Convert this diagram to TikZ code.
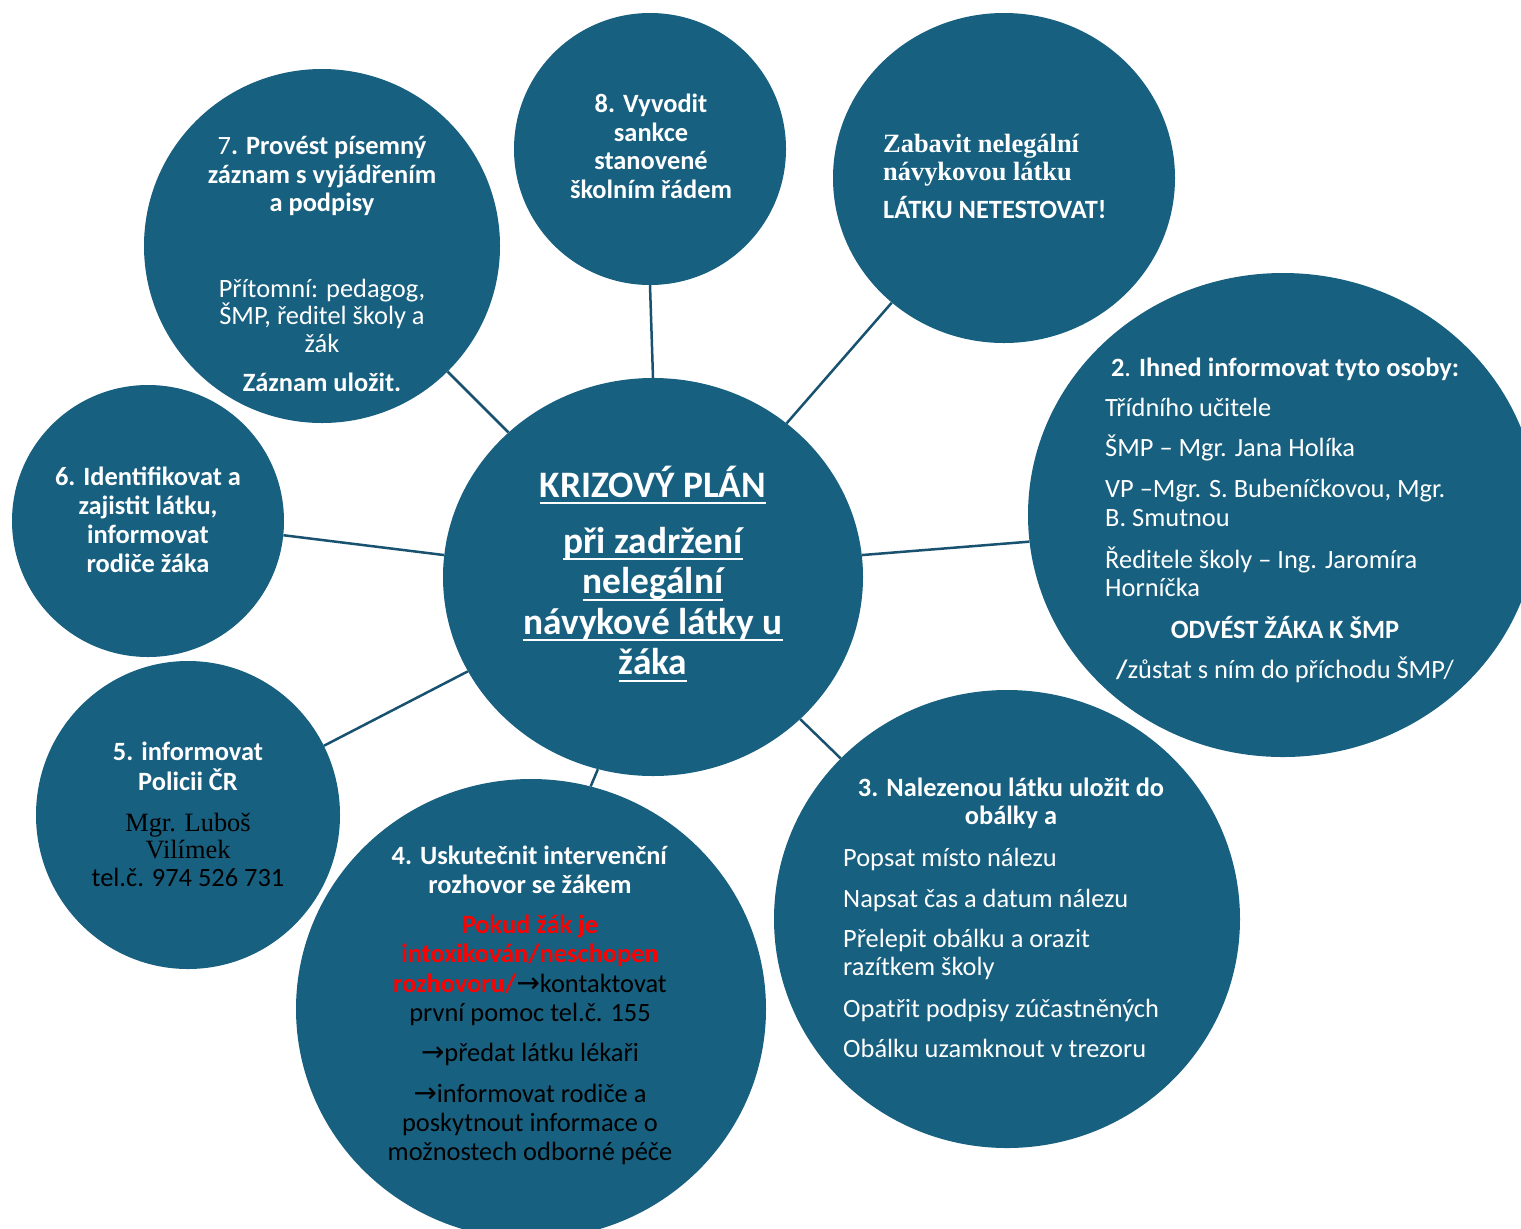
\documentclass[tikz,border=0pt]{standalone}
\usepackage{fontspec}
\setmainfont{Carlito}
\newfontfamily\tms{Liberation Serif}
\newfontfamily\dvs{DejaVu Sans}
\usetikzlibrary{shapes.geometric}
\definecolor{circ}{RGB}{24,96,128}
\definecolor{conn}{RGB}{24,82,112}
\definecolor{redt}{RGB}{255,0,0}
\newcommand\fstr[1]{\rule{0pt}{#1}}
\newcommand\ulx[1]{\setbox0=\hbox{#1}\rlap{\rule[-7bp]{\wd0}{2bp}}\box0}
\newcommand\arr{{\dvs\mdseries\fontsize{28}{28}\selectfont →}}
\tikzset{
  bub/.style={ellipse, fill=circ, draw=none, inner sep=0pt},
  link/.style={draw=conn, line width=2.5bp},
  tx/.style={inner sep=0pt, text=white, align=center, anchor=north},
  txl/.style={inner sep=0pt, text=white, align=left, anchor=north west},
  fs/.style={font={\fontsize{26.5}{#1}\selectfont\lineskiplimit=-1000pt}},
}
\begin{document}
\begin{tikzpicture}[x=1bp,y=-1bp]
\useasboundingbox (0,0) rectangle (1521,1228);
\fill[white] (0,0) rectangle (1521,1228);
\clip (0,0) rectangle (1521,1228);
% bubbles
\node[bub, minimum width=420bp, minimum height=398bp] (c0) at (653,577) {};
\node[bub, minimum width=272bp, minimum height=272bp] (c8) at (650,149) {};
\node[bub, minimum width=342bp, minimum height=330bp] (cz) at (1004,178) {};
\node[bub, minimum width=356bp, minimum height=354bp] (c7) at (322,246) {};
\node[bub, minimum width=272bp, minimum height=272bp] (c6) at (148,521) {};
\node[bub, minimum width=304bp, minimum height=308bp] (c5) at (188,815) {};
\node[bub, minimum width=470bp, minimum height=460bp] (c4) at (531,1009) {};
\node[bub, minimum width=466bp, minimum height=458bp] (c3) at (1007,919) {};
\node[bub, minimum width=510bp, minimum height=484bp] (c2) at (1283,515) {};
% connectors
\draw[link] (c8.-90) -- (c0.90);
\draw[link] (cz.-132) -- (c0.49);
\draw[link] (c7.-45) -- (c0.135);
\draw[link] (c6.-6) -- (c0.174);
\draw[link] (c2.-174) -- (c0.6);
\draw[link] (c5.27) -- (c0.-153);
\draw[link] (c4.75) -- (c0.-106);
\draw[link] (c3.136) -- (c0.-44);
% centre text
\node[tx, font={\fontsize{37.5}{40.7}\selectfont\bfseries\lineskiplimit=-1000pt}] (t0) at (653,460)
  {\fstr{37bp}\ulx{KRIZOVÝ PLÁN}\\[15.3bp]\ulx{při zadržení}\\\ulx{nelegální}\\\ulx{návykové látky u}\\\ulx{žáka}};
% 8
\node[tx, fs=29] (t8) at (651,86)
  {\fstr{26bp}\textbf{8. Vyvodit}\\\textbf{sankce}\\\textbf{stanovené}\\\textbf{školním řádem}};
% zabavit
\node[txl, font={\tms\bfseries\fontsize{26.5}{28}\selectfont\lineskiplimit=-1000pt}] (tz1) at (883,126)
  {\fstr{26bp}Zabavit nelegální\\návykovou látku};
\node[txl, fs=29] (tz2) at (883,192) {\fstr{26bp}\textbf{LÁTKU NETESTOVAT!}};
% 7
\node[tx, fs=29] (t7a) at (322,128)
  {\fstr{26bp}\textbf{{\mdseries 7}. Provést písemný}\\\textbf{záznam s vyjádřením}\\\textbf{a podpisy}};
\node[tx, fs=27.5] (t7b) at (322,271)
  {\fstr{26bp}Přítomní: pedagog,\\ŠMP, ředitel školy a\\žák\\[12.5bp]\textbf{Záznam uložit.}};
% 6
\node[tx, fs=29.3] (t6) at (148,459)
  {\fstr{26bp}\textbf{6. Identifikovat a}\\\textbf{zajistit látku,}\\\textbf{informovat}\\\textbf{rodiče žáka}};
% 5
\node[tx, fs=30] (t5a) at (188,734)
  {\fstr{26bp}\textbf{5. informovat}\\\textbf{Policii ČR}};
\node[tx, text=black, font={\tms\fontsize{26.5}{27.5}\selectfont\lineskiplimit=-1000pt}] (t5b) at (188,805)
  {\fstr{26bp}Mgr. Luboš\\Vilímek\\\rmfamily tel.č. 974 526 731};
% 4
\node[tx, fs=29.2] (t4) at (530,838)
  {\fstr{26bp}\textbf{4. Uskutečnit intervenční}\\\textbf{rozhovor se žákem}\\[11.5bp]%
   \color{redt}\textbf{Pokud žák je}\\\color{redt}\textbf{intoxikován/neschopen}\\%
   \textcolor{redt}{\textbf{rozhovoru/}}\color{black}\arr kontaktovat\\\color{black}první pomoc tel.č. 155\\[11.5bp]%
   \color{black}\arr předat látku lékaři\\[11.5bp]%
   \color{black}\arr informovat rodiče a\\\color{black}poskytnout informace o\\\color{black}možnostech odborné péče};
% 3
\node[tx, fs=28] (t3a) at (1011,770)
  {\fstr{26bp}\textbf{3. Nalezenou látku uložit do}\\\textbf{obálky a}};
\node[txl, fs=28.5] (t3b) at (843,840)
  {\fstr{26bp}Popsat místo nálezu\\[13bp]Napsat čas a datum nálezu\\[11.5bp]Přelepit obálku a orazit\\razítkem školy\\[13.5bp]Opatřit podpisy zúčastněných\\[11.5bp]Obálku uzamknout v trezoru};
% 2
\node[tx, fs=29] (t2a) at (1285,350)
  {\fstr{26bp}\textbf{2{\mdseries .} Ihned informovat tyto osoby:}};
\node[txl, fs=28.5] (t2b) at (1105,390)
  {\fstr{26bp}Třídního učitele\\[11.5bp]ŠMP – Mgr. Jana Holíka\\[13.5bp]VP –Mgr. S. Bubeníčkovou, Mgr.\\B. Smutnou\\[13.5bp]Ředitele školy – Ing. Jaromíra\\Horníčka};
\node[tx, fs=28.5] (t2c) at (1285,612)
  {\fstr{26bp}\textbf{ODVÉST ŽÁKA K ŠMP}\\[11.5bp]\textbf{/}zůstat s ním do příchodu ŠMP/};
\end{tikzpicture}
\end{document}
